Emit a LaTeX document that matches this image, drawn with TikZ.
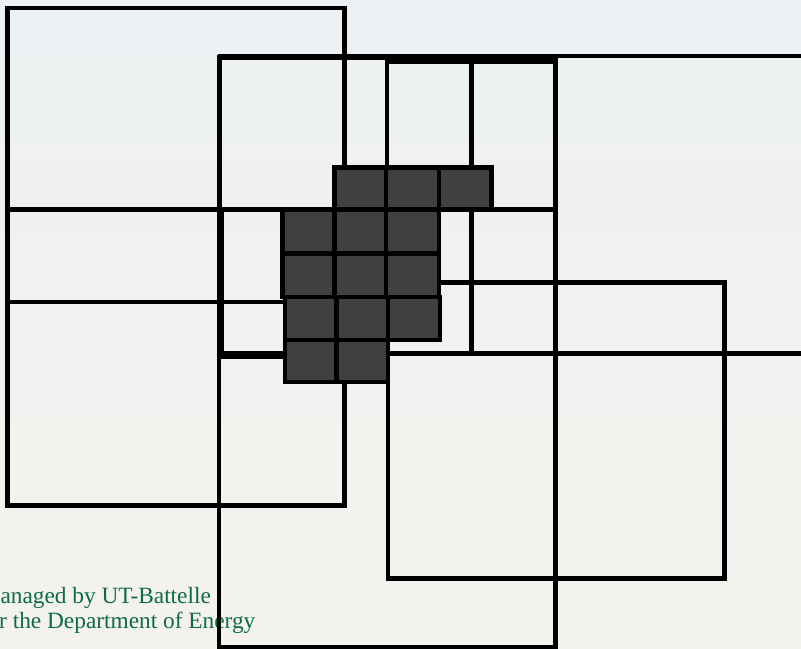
\documentclass[tikz,border=0pt]{standalone}
\usepackage{fontspec}
\setmainfont{Liberation Serif}
\usetikzlibrary{positioning}
\definecolor{ornlgreen}{RGB}{14,108,68}
\definecolor{cellgray}{RGB}{64,64,64}
\definecolor{paperA}{RGB}{237,241,243}
\definecolor{paperB}{RGB}{244,242,237}

\begin{document}
\begin{tikzpicture}[x=0.75pt,y=-0.75pt]
	\tikzstyle{box} = [draw=black, line width=3.7pt];
	\tikzstyle{cell} = [draw=black, fill=cellgray, line width=3.7pt];
	\tikzstyle{credit} = [text=ornlgreen, font=\fontsize{17.5}{19}\selectfont, inner sep=0pt, anchor=base west];

	\useasboundingbox (0,0) rectangle (801,649);
	\clip (0,0) rectangle (801,649);
	\shade[top color=paperA, bottom color=paperB] (0,0) rectangle (801,649);

	% credit text, cut at the left border
	\node[credit] (creditA) at (-20.5,603) {Managed by UT-Battelle};
	\node[credit] (creditB) at (-20.5,628) {for the Department of Energy};

	% overlapping domains
	\draw[box] (7.5,8) rectangle (344.5,505.5);
	\draw[box] (219,57.5) rectangle (555.5,647);
	\draw[box] (220,56) rectangle (815,353.5);
	\draw[box] (388,282.5) rectangle (724.5,578.5);
	\draw[box] (387,61.5) rectangle (555.5,209.5);
	\draw[box] (471.5,61.5) rectangle (555.5,353.5);
	\draw[box] (7.5,209.5) rectangle (344.5,302);
	\draw[box] (221.5,209.5) rectangle (335,357);

	% dark cells
	\draw[cell] (334.5,167.5) rectangle (386,209.5);
	\draw[cell] (386,167.5) rectangle (439,209.5);
	\draw[cell] (439,167.5) rectangle (491.5,209.5);

	\draw[cell] (282.5,209.5) rectangle (334.5,253.5);
	\draw[cell] (334.5,209.5) rectangle (386,253.5);
	\draw[cell] (386,209.5) rectangle (439,253.5);

	\draw[cell] (282.5,253.5) rectangle (334.5,297);
	\draw[cell] (334.5,253.5) rectangle (386,297);
	\draw[cell] (386,253.5) rectangle (439,297);

	\draw[cell] (285,297) rectangle (336.5,340);
	\draw[cell] (336.5,297) rectangle (388,340);
	\draw[cell] (388,297) rectangle (440,340);

	\draw[cell] (285,340) rectangle (336.5,382);
	\draw[cell] (336.5,340) rectangle (388,382);
\end{tikzpicture}
\end{document}
